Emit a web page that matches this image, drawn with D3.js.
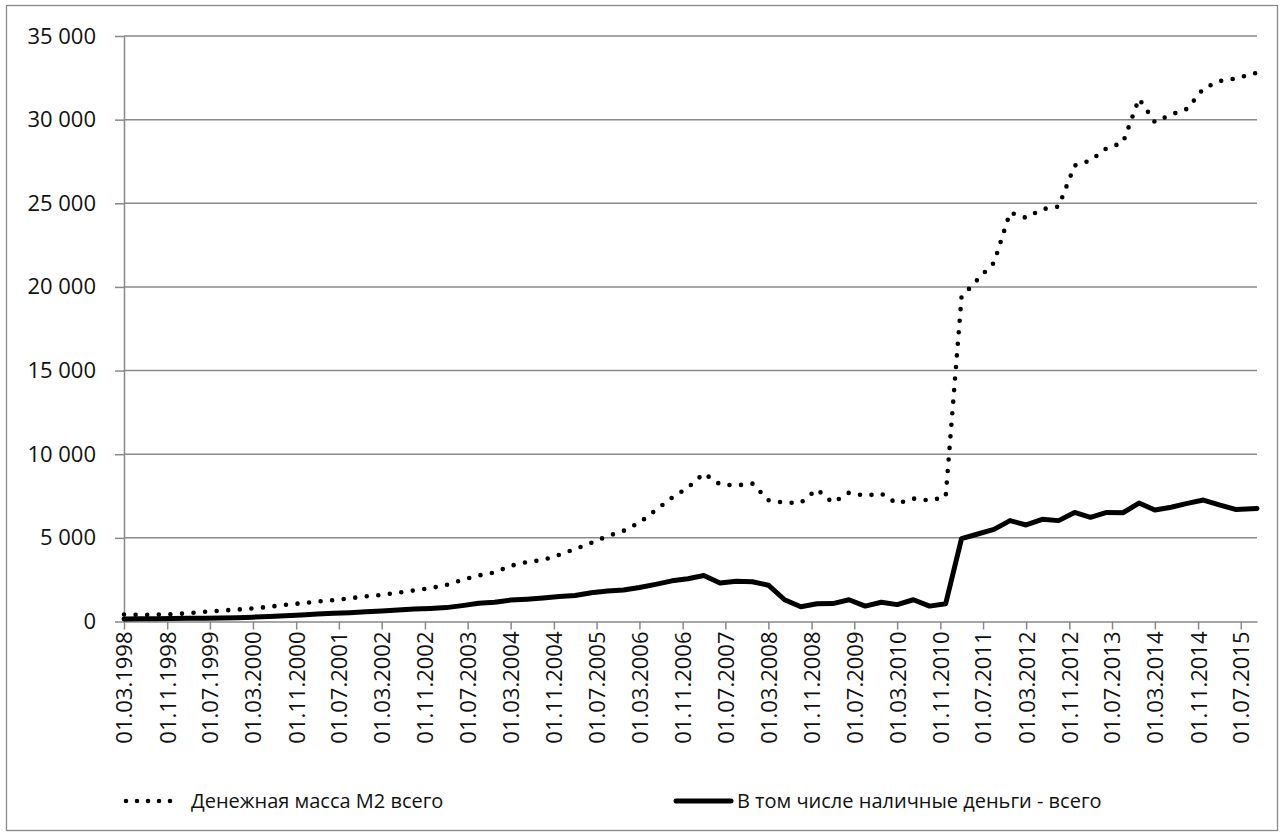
<!DOCTYPE html>
<html>
<head>
<meta charset="utf-8">
<script src="https://cdn.jsdelivr.net/npm/d3@7"></script>
<style>
  body { margin: 0; background: #fff; }
  svg { display: block; font-family: "Open Sans", sans-serif; }
</style>
</head>
<body>
<div id="chart"></div>
<script>
// Quarterly observations (last one is 01.10.2015)
const dates = [
  '01.03.1998', '01.06.1998', '01.09.1998', '01.12.1998',
  '01.03.1999', '01.06.1999', '01.09.1999', '01.12.1999',
  '01.03.2000', '01.06.2000', '01.09.2000', '01.12.2000',
  '01.03.2001', '01.06.2001', '01.09.2001', '01.12.2001',
  '01.03.2002', '01.06.2002', '01.09.2002', '01.12.2002',
  '01.03.2003', '01.06.2003', '01.09.2003', '01.12.2003',
  '01.03.2004', '01.06.2004', '01.09.2004', '01.12.2004',
  '01.03.2005', '01.06.2005', '01.09.2005', '01.12.2005',
  '01.03.2006', '01.06.2006', '01.09.2006', '01.12.2006',
  '01.03.2007', '01.06.2007', '01.09.2007', '01.12.2007',
  '01.03.2008', '01.06.2008', '01.09.2008', '01.12.2008',
  '01.03.2009', '01.06.2009', '01.09.2009', '01.12.2009',
  '01.03.2010', '01.06.2010', '01.09.2010', '01.12.2010',
  '01.03.2011', '01.06.2011', '01.09.2011', '01.12.2011',
  '01.03.2012', '01.06.2012', '01.09.2012', '01.12.2012',
  '01.03.2013', '01.06.2013', '01.09.2013', '01.12.2013',
  '01.03.2014', '01.06.2014', '01.09.2014', '01.12.2014',
  '01.03.2015', '01.06.2015', '01.10.2015'
];

// Денежная масса М2 всего
const m2Total = [
  420, 400, 410, 430,
  500, 580, 650, 710,
  780, 880, 1000, 1090,
  1190, 1280, 1390, 1500,
  1590, 1720, 1860, 1990,
  2180, 2490, 2750, 2930,
  3330, 3550, 3680, 3980,
  4330, 4700, 5100, 5420,
  5910, 6650, 7400, 8000,
  8850, 8200, 8130, 8250,
  7250, 7100, 7100, 7900,
  7100, 7700, 7520, 7650,
  7050, 7350, 7230, 7450,
  19400, 20450, 21450, 24450,
  24130, 24650, 24800, 27250,
  27560, 28300, 28620, 31250,
  29850, 30300, 30650, 31850,
  32300, 32460, 32800
];

// В том числе наличные деньги - всего
const cashTotal = [
  150, 160, 170, 180,
  190, 200, 210, 230,
  260, 300, 340, 390,
  450, 490, 530, 580,
  630, 690, 750, 780,
  830, 950, 1090, 1150,
  1280, 1330, 1400, 1490,
  1550, 1720, 1820, 1880,
  2030, 2220, 2430, 2560,
  2750, 2300, 2400, 2380,
  2170, 1300, 880, 1060,
  1070, 1300, 920, 1150,
  1010, 1300, 920, 1060,
  4950, 5230, 5510, 6030,
  5770, 6110, 6030, 6520,
  6230, 6520, 6500, 7080,
  6670, 6830, 7060, 7260,
  6970, 6700, 6760
];

const seriesNames = ['Денежная масса М2 всего', 'В том числе наличные деньги - всего'];

const yTicks = [0, 5000, 10000, 15000, 20000, 25000, 30000, 35000];

const xTickLabels = [
  '01.03.1998', '01.11.1998', '01.07.1999', '01.03.2000', '01.11.2000',
  '01.07.2001', '01.03.2002', '01.11.2002', '01.07.2003', '01.03.2004',
  '01.11.2004', '01.07.2005', '01.03.2006', '01.11.2006', '01.07.2007',
  '01.03.2008', '01.11.2008', '01.07.2009', '01.03.2010', '01.11.2010',
  '01.07.2011', '01.03.2012', '01.11.2012', '01.07.2013', '01.03.2014',
  '01.11.2014', '01.07.2015'
];

const width = 1285;
const height = 838;
const plot = { left: 124, right: 1257, top: 36, bottom: 621.5 };
const gridColor = '#898989';

const parseDate = d3.utcParse('%d.%m.%Y');
const formatDate = d3.utcFormat('%d.%m.%Y');
const ruLocale = d3.formatLocale({ decimal: ',', thousands: '\u00a0', grouping: [3], currency: ['', ''] });
const formatValue = ruLocale.format(',d');

const m2Data = dates.map((d, i) => ({ date: parseDate(d), value: m2Total[i] }));
const cashData = dates.map((d, i) => ({ date: parseDate(d), value: cashTotal[i] }));

const svg = d3.select('#chart')
  .append('svg')
  .attr('width', width)
  .attr('height', height)
  .attr('viewBox', `0 0 ${width} ${height}`);

// chart area frame
svg.append('rect')
  .attr('x', 6.5)
  .attr('y', 5.5)
  .attr('width', 1271)
  .attr('height', 825)
  .attr('fill', '#fff')
  .attr('stroke', gridColor)
  .attr('stroke-width', 1.3);

const x = d3.scaleUtc()
  .domain([parseDate('01.03.1998'), parseDate('01.10.2015')])
  .range([plot.left, plot.right]);

const y = d3.scaleLinear()
  .domain([0, 35000])
  .range([plot.bottom, plot.top]);

// horizontal gridlines
svg.append('g')
  .attr('class', 'grid')
  .selectAll('line')
  .data(yTicks.filter((t) => t > 0))
  .join('line')
  .attr('x1', plot.left)
  .attr('x2', plot.right)
  .attr('y1', (d) => y(d))
  .attr('y2', (d) => y(d))
  .attr('stroke', gridColor)
  .attr('stroke-width', 1.5);

// y axis
const yAxisG = svg.append('g')
  .attr('transform', `translate(${plot.left},0)`)
  .call(d3.axisLeft(y).tickValues(yTicks).tickFormat(formatValue).tickSize(9).tickSizeOuter(0).tickPadding(19));

// x axis
const xAxisG = svg.append('g')
  .attr('transform', `translate(0,${plot.bottom})`)
  .call(d3.axisBottom(x)
    .tickValues(xTickLabels.map(parseDate))
    .tickFormat(formatDate)
    .tickSize(8)
    .tickSizeOuter(0));

xAxisG.selectAll('.tick text')
  .attr('transform', 'rotate(-90)')
  .attr('text-anchor', 'end')
  .attr('x', -10)
  .attr('y', 0)
  .attr('dy', '0.36em');

[yAxisG, xAxisG].forEach((g) => {
  g.select('.domain').attr('stroke', gridColor).attr('stroke-width', 1.5);
  g.selectAll('.tick line').attr('stroke', gridColor).attr('stroke-width', 1.5);
  g.selectAll('.tick text')
    .attr('fill', '#111')
    .style('font-family', '"Open Sans", sans-serif')
    .style('font-size', '22px');
});

const lineGen = d3.line()
  .x((d) => x(d.date))
  .y((d) => y(d.value));

// M2 — dotted
svg.append('path')
  .datum(m2Data)
  .attr('fill', 'none')
  .attr('stroke', '#000')
  .attr('stroke-width', 4.6)
  .attr('stroke-linecap', 'round')
  .attr('stroke-linejoin', 'round')
  .attr('stroke-dasharray', '0 11.6')
  .attr('d', lineGen);

// cash — solid
svg.append('path')
  .datum(cashData)
  .attr('fill', 'none')
  .attr('stroke', '#000')
  .attr('stroke-width', 5)
  .attr('stroke-linecap', 'round')
  .attr('stroke-linejoin', 'round')
  .attr('d', lineGen);

// legend
const legendY = 801;
const legendItems = [
  { name: seriesNames[0], x1: 126, x2: 181, textX: 191, dash: '0 11' },
  { name: seriesNames[1], x1: 676, x2: 731, textX: 737, dash: null }
];

const legend = svg.append('g')
  .attr('class', 'legend')
  .selectAll('g')
  .data(legendItems)
  .join('g');

legend.append('line')
  .attr('x1', (d) => d.x1)
  .attr('x2', (d) => d.x2)
  .attr('y1', legendY)
  .attr('y2', legendY)
  .attr('stroke', '#000')
  .attr('stroke-width', (d) => (d.dash ? 4.6 : 5))
  .attr('stroke-linecap', 'round')
  .attr('stroke-dasharray', (d) => d.dash);

legend.append('text')
  .attr('x', (d) => d.textX)
  .attr('y', legendY)
  .attr('dy', '0.35em')
  .attr('fill', '#111')
  .style('font-size', '20px')
  .text((d) => d.name);
</script>
</body>
</html>
